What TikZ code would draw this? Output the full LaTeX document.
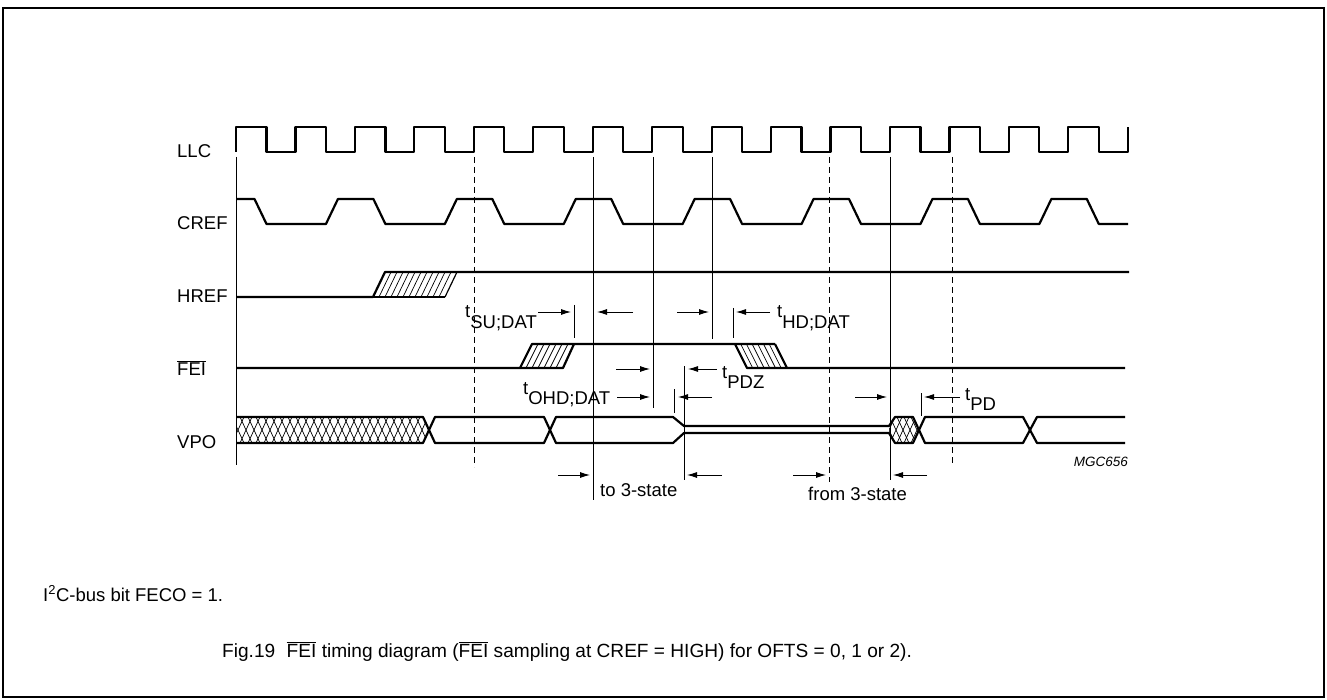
\documentclass[tikz,border=0pt]{standalone}
\usepackage{fontspec}
\setmainfont{Liberation Sans}
\usetikzlibrary{arrows.meta}
\newcommand{\tparam}[1]{t\raisebox{-0.57em}{#1}}
\newcommand{\barfei}{$\overline{\mbox{FEI}}$}

\begin{document}
\begin{tikzpicture}[x=1pt, y=-1pt, font=\fontsize{18.5}{22}\selectfont,
  sig/.style={line width=2.2pt, line join=round},
  guide/.style={line width=0.8pt},
  dashguide/.style={line width=0.8pt, dash pattern=on 6pt off 4pt},
  dim/.style={line width=0.9pt, -{Latex[length=10pt,width=6pt]}},
  hatch/.style={line width=0.7pt},
  lbl/.style={anchor=base west, inner sep=0pt}]
  \useasboundingbox (0,0) rectangle (1327,700);
  \draw[line width=1.2pt] (3,8) rectangle (1324,697);

  \node[lbl] (llc) at (177,158) {LLC};
  \node[lbl] (cref) at (177,230) {CREF};
  \node[lbl] (href) at (177,303) {HREF};
  \node[lbl] (fei) at (177,375) {\barfei};
  \node[lbl] (vpo) at (177,448) {VPO};

  \draw[sig] (236,152) -- (236,127)
    \foreach \k in {0,...,14} {
      -- ({236+59.45*\k+30.5},127) -- ({236+59.45*\k+30.5},152)
      -- ({236+59.45*(\k+1)},152) -- ({236+59.45*(\k+1)},127) };

  \draw[sig] (236,199) -- (254.5,199) -- (266.5,224)
    \foreach \j in {0,...,6} {
      -- ({266.5+59.45*(2*\j+1)},224) -- ({278.5+59.45*(2*\j+1)},199)
      -- ({254.5+59.45*(2*\j+2)},199) -- ({266.5+59.45*(2*\j+2)},224) }
    -- (1128,224);

  \draw[sig] (236,297) -- (373,297) -- (385,272) -- (1129,272);
  \draw[sig] (373,297) -- (445,297);
  \draw[line width=1.2pt] (445,297) -- (457,272);
  \foreach \i in {1,...,11}
    \draw[hatch] ({373+6*\i},297) -- ({385+6*\i},272);

  \draw[sig] (236,368) -- (520,368) -- (532,344) -- (775,344);
  \draw[sig] (520,368) -- (563,368) -- (574,344);
  \draw[sig] (735,344) -- (747,368) -- (1125,368);
  \draw[sig] (775,344) -- (787,368);
  \foreach \i in {1,...,6}
    \draw[hatch] ({520+6*\i},368) -- ({532+6*\i},344);
  \foreach \i in {1,...,6}
    \draw[hatch] ({735+5.7*\i},344) -- ({747+5.7*\i},368);

  \begin{scope}
    \clip (236,417) -- (423,417) -- (429,430) -- (423,443) -- (236,443) -- cycle;
    \foreach \x in {224,232,...,432} {
      \draw[hatch] (\x,443) -- ({\x+12},417);
      \draw[hatch] (\x,417) -- ({\x+12},443); }
  \end{scope}
  \begin{scope}
    \clip (889,426) -- (895,417) -- (913,417) -- (919,430) -- (913,443) -- (895,443) -- (889,433) -- cycle;
    \foreach \x in {876,883,...,925} {
      \draw[hatch] (\x,443) -- ({\x+12},417);
      \draw[hatch] (\x,417) -- ({\x+12},443); }
  \end{scope}
  \draw[sig] (236,417) -- (423,417) -- (435,443) -- (544,443) -- (556,417) -- (673,417)
    -- (684,426) -- (889,426) -- (895,417) -- (913,417) -- (925,443) -- (1023,443)
    -- (1037,417) -- (1125,417);
  \draw[sig] (236,443) -- (423,443) -- (435,417) -- (544,417) -- (556,443) -- (673,443)
    -- (684,433) -- (889,433) -- (895,443) -- (913,443) -- (925,417) -- (1023,417)
    -- (1037,443) -- (1125,443);

  \draw[guide] (236,157) -- (236,465);
  \draw[dashguide] (474,157) -- (474,467);
  \draw[guide] (593,157) -- (593,500);
  \draw[guide] (653,157) -- (653,408);
  \draw[guide] (712,157) -- (712,339);
  \draw[dashguide] (829,157) -- (829,482);
  \draw[guide] (890,157) -- (890,480);
  \draw[dashguide] (952,157) -- (952,465);

  \draw[guide] (574,305) -- (574,338);
  \draw[guide] (733,308) -- (733,338);
  \draw[guide] (684,366) -- (684,480);
  \draw[guide] (674,389) -- (674,413);
  \draw[guide] (921,393) -- (921,416);

  \node[lbl] (tsu) at (465,318) {\tparam{SU;DAT}};
  \draw[dim] (538,312) -- (571,312);
  \draw[dim] (633,312) -- (597,312);
  \draw[dim] (677,312) -- (709,312);
  \draw[dim] (770,312) -- (736,312);
  \node[lbl] (thd) at (777,318) {\tparam{HD;DAT}};

  \node[lbl] (tohd) at (523,394) {\tparam{OHD;DAT}};
  \draw[dim] (616,369) -- (650,369);
  \draw[dim] (717,369) -- (688,369);
  \node[lbl] (tpdz) at (722,378) {\tparam{PDZ}};
  \draw[dim] (617,397) -- (650,397);
  \draw[dim] (712,397) -- (678,397);

  \draw[dim] (855,397) -- (887,397);
  \draw[dim] (960,397) -- (924,397);
  \node[lbl] (tpd) at (965,400) {\tparam{PD}};

  \draw[dim] (558,475) -- (590,475);
  \draw[dim] (722,475) -- (687,475);
  \node[lbl] (to3) at (600,496) {to 3-state};
  \draw[dim] (793,475) -- (826,475);
  \draw[dim] (927,475) -- (893,475);
  \node[lbl] (from3) at (808,500) {from 3-state};

  \node[anchor=base east, inner sep=0pt, font=\fontsize{13.5}{16}\selectfont\itshape] (mgc) at (1128,466) {MGC656};

  \node[lbl] (note) at (43,601) {I\textsuperscript{2}C-bus bit FECO = 1.};
  \node[lbl, font=\fontsize{19.1}{23}\selectfont] (cap) at (222,657) {Fig.19\hspace{0.6em}\barfei{} timing diagram (\barfei{} sampling at CREF = HIGH) for OFTS = 0, 1 or 2).};
\end{tikzpicture}
\end{document}
